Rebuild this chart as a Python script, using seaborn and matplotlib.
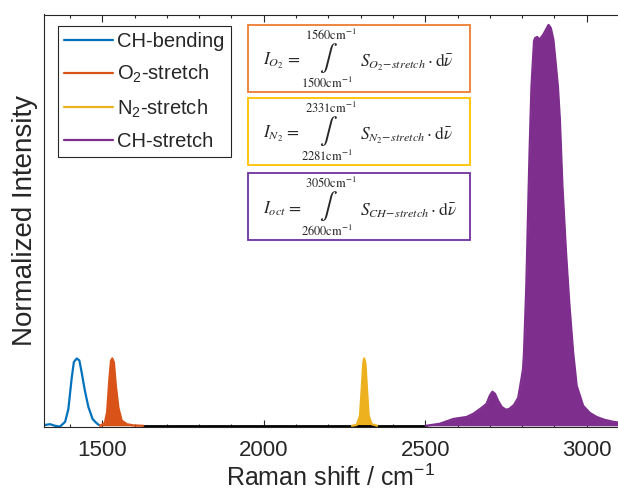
import numpy as np
import pandas as pd
import matplotlib
matplotlib.use("Agg")
import matplotlib.pyplot as plt
import matplotlib.transforms as mtransforms
from matplotlib.patches import Rectangle
from matplotlib.lines import Line2D
from matplotlib.ticker import MultipleLocator
import seaborn as sns

# ---------------- data ----------------
bend_x = [1322, 1338, 1354, 1369, 1385, 1395, 1405, 1412, 1421, 1429, 1436, 1446, 1457, 1470, 1483, 1490]
bend_y = [0.002, 0.004, 0.0, -0.002, 0.01, 0.042, 0.117, 0.159, 0.168, 0.163, 0.134, 0.088, 0.047, 0.017, 0.006, 0.002]

o2_x = [1493, 1508, 1515, 1522, 1527, 1531, 1536, 1542, 1550, 1560, 1576, 1596, 1627]
o2_y = [0.0, 0.007, 0.034, 0.117, 0.162, 0.168, 0.158, 0.100, 0.045, 0.013, 0.004, 0.001, 0.0]

base_x = [1627, 2502]
base_y = [0.0, 0.0]

n2_x = [2273, 2288, 2298, 2304, 2308, 2311, 2315, 2319, 2325, 2334, 2351]
n2_y = [0.0, 0.002, 0.025, 0.100, 0.155, 0.168, 0.155, 0.100, 0.025, 0.004, 0.0]

ch_x = [2502, 2545, 2587, 2628, 2649, 2675, 2690, 2700, 2708, 2716, 2726, 2737, 2750, 2760, 2775,
        2788, 2798, 2803, 2806, 2813, 2818, 2823, 2829, 2837, 2840, 2847, 2853, 2865, 2882, 2889,
        2897, 2901, 2911, 2917, 2925, 2936, 2946, 2958, 2969, 2989, 3010, 3031, 3055, 3082, 3100]
ch_y = [0.0, 0.005, 0.017, 0.022, 0.030, 0.045, 0.055, 0.075, 0.085, 0.080, 0.062, 0.047, 0.040, 0.042, 0.052,
        0.070, 0.117, 0.142, 0.184, 0.348, 0.515, 0.680, 0.846, 0.960, 0.967, 0.970, 0.963, 0.975, 1.0, 0.992,
        0.963, 0.930, 0.846, 0.764, 0.597, 0.433, 0.308, 0.184, 0.100, 0.050, 0.032, 0.022, 0.015, 0.010, 0.008]

labels = ["CH-bending", "O$_2$-stretch", "N$_2$-stretch", "CH-stretch"]
colors = ["#0072BD", "#D95319", "#EDB120", "#7E2F8E"]
xticks = [1500, 2000, 2500, 3000]

box_uppers = ["1560", "2331", "3050"]
box_lowers = ["1500", "2281", "2600"]
box_lhs = [r"$I_{O_2}$ =", r"$I_{N_2}$ =", r"$I_{oct}$ ="]
box_rhs = [r"$S_{O_2\!-\!stretch}\cdot\mathrm{d}\bar{\nu}$",
           r"$S_{N_2\!-\!stretch}\cdot\mathrm{d}\bar{\nu}$",
           r"$S_{CH\!-\!stretch}\cdot\mathrm{d}\bar{\nu}$"]
box_colors = ["#ED7D31", "#FFC000", "#7030A0"]

# ---------------- figure ----------------
sns.set_theme(style="white")
plt.rcParams["font.family"] = ["Liberation Sans", "DejaVu Sans"]
plt.rcParams["mathtext.fontset"] = "custom"
plt.rcParams["mathtext.rm"] = "Liberation Sans"
plt.rcParams["mathtext.it"] = "Liberation Sans:italic"

W, H = 618, 493
fig = plt.figure(figsize=(W / 100, H / 100), dpi=100)
ax = fig.add_axes([43.5 / W, (H - 427) / H, (W - 43.5) / W, (427 - 14.5) / H])

ax.fill_between(o2_x, o2_y, 0, color=colors[1], lw=0)
ax.fill_between(n2_x, n2_y, 0, color=colors[2], lw=0)
ax.fill_between(ch_x, ch_y, 0, color=colors[3], lw=0)

sns.lineplot(x=base_x, y=base_y, color="black", lw=2.0, ax=ax, sort=False, estimator=None)
sns.lineplot(x=bend_x, y=bend_y, color=colors[0], lw=1.6, ax=ax, sort=False, estimator=None)
sns.lineplot(x=o2_x, y=o2_y, color=colors[1], lw=1.6, ax=ax, sort=False, estimator=None)
sns.lineplot(x=n2_x, y=n2_y, color=colors[2], lw=1.6, ax=ax, sort=False, estimator=None)
sns.lineplot(x=ch_x, y=ch_y, color=colors[3], lw=1.6, ax=ax, sort=False, estimator=None)

ax.set_xlim(1318, 3097)
ax.set_ylim(-0.003, 1.026)
ax.set_yticks([])
ax.set_xticks(xticks)
ax.xaxis.set_minor_locator(MultipleLocator(100))
ax.tick_params(axis="x", which="both", direction="in", top=True, bottom=True,
               colors="#262626", labelsize=16, labelcolor="#262626", pad=9)
ax.tick_params(axis="x", which="major", length=5, width=0.8)
ax.tick_params(axis="x", which="minor", length=2.5, width=0.8)
for s in ["left", "top", "bottom"]:
    ax.spines[s].set_color("#262626")
    ax.spines[s].set_linewidth(0.8)
ax.spines["right"].set_visible(False)

ax.set_xlabel("Raman shift / cm$^{-1}$", fontsize=18, color="#262626", labelpad=3)
ax.set_ylabel("Normalized Intensity", fontsize=20, color="#262626", labelpad=4)

handles = [Line2D([0], [0], color=c, lw=1.6) for c in colors]
leg = ax.legend(handles, labels, loc="upper left",
                bbox_to_anchor=((58 - 43.5) / (W - 43.5), (427 - 26) / 412.5),
                borderaxespad=0, fontsize=14.5, handlelength=2.45, handletextpad=0.2,
                borderpad=0.3, labelspacing=0.6, frameon=True, fancybox=False,
                framealpha=1, edgecolor="#262626")
leg.get_frame().set_linewidth(0.8)

# ---------------- formula boxes (pixel coordinates) ----------------
pix = mtransforms.Affine2D().scale(1 / W, -1 / H).translate(0, 1) + fig.transFigure
for i in range(3):
    dy = [0, 73, 148][i]
    fig.patches.append(Rectangle((248, 25 + dy), 222, 67, transform=pix, fill=True,
                                 facecolor="white", edgecolor=box_colors[i], lw=1.3))
    fig.text(263, 61 + dy, box_lhs[i], transform=pix, ha="left", va="center",
             fontsize=12.5, math_fontfamily="stix", family="STIXGeneral")
    fig.text(328, 58 + dy, r"$\int$", transform=pix, ha="center", va="center",
             fontsize=19, math_fontfamily="stix")
    fig.text(331, 35 + dy, r"$\mathrm{" + box_uppers[i] + r"cm}^{-1}$", transform=pix,
             ha="center", va="center", fontsize=9, math_fontfamily="stix")
    fig.text(327, 83 + dy, r"$\mathrm{" + box_lowers[i] + r"cm}^{-1}$", transform=pix,
             ha="center", va="center", fontsize=9, math_fontfamily="stix")
    fig.text(360, 62 + dy, box_rhs[i], transform=pix, ha="left", va="center",
             fontsize=12.5, math_fontfamily="stix")

fig.savefig("out.png", dpi=100)
